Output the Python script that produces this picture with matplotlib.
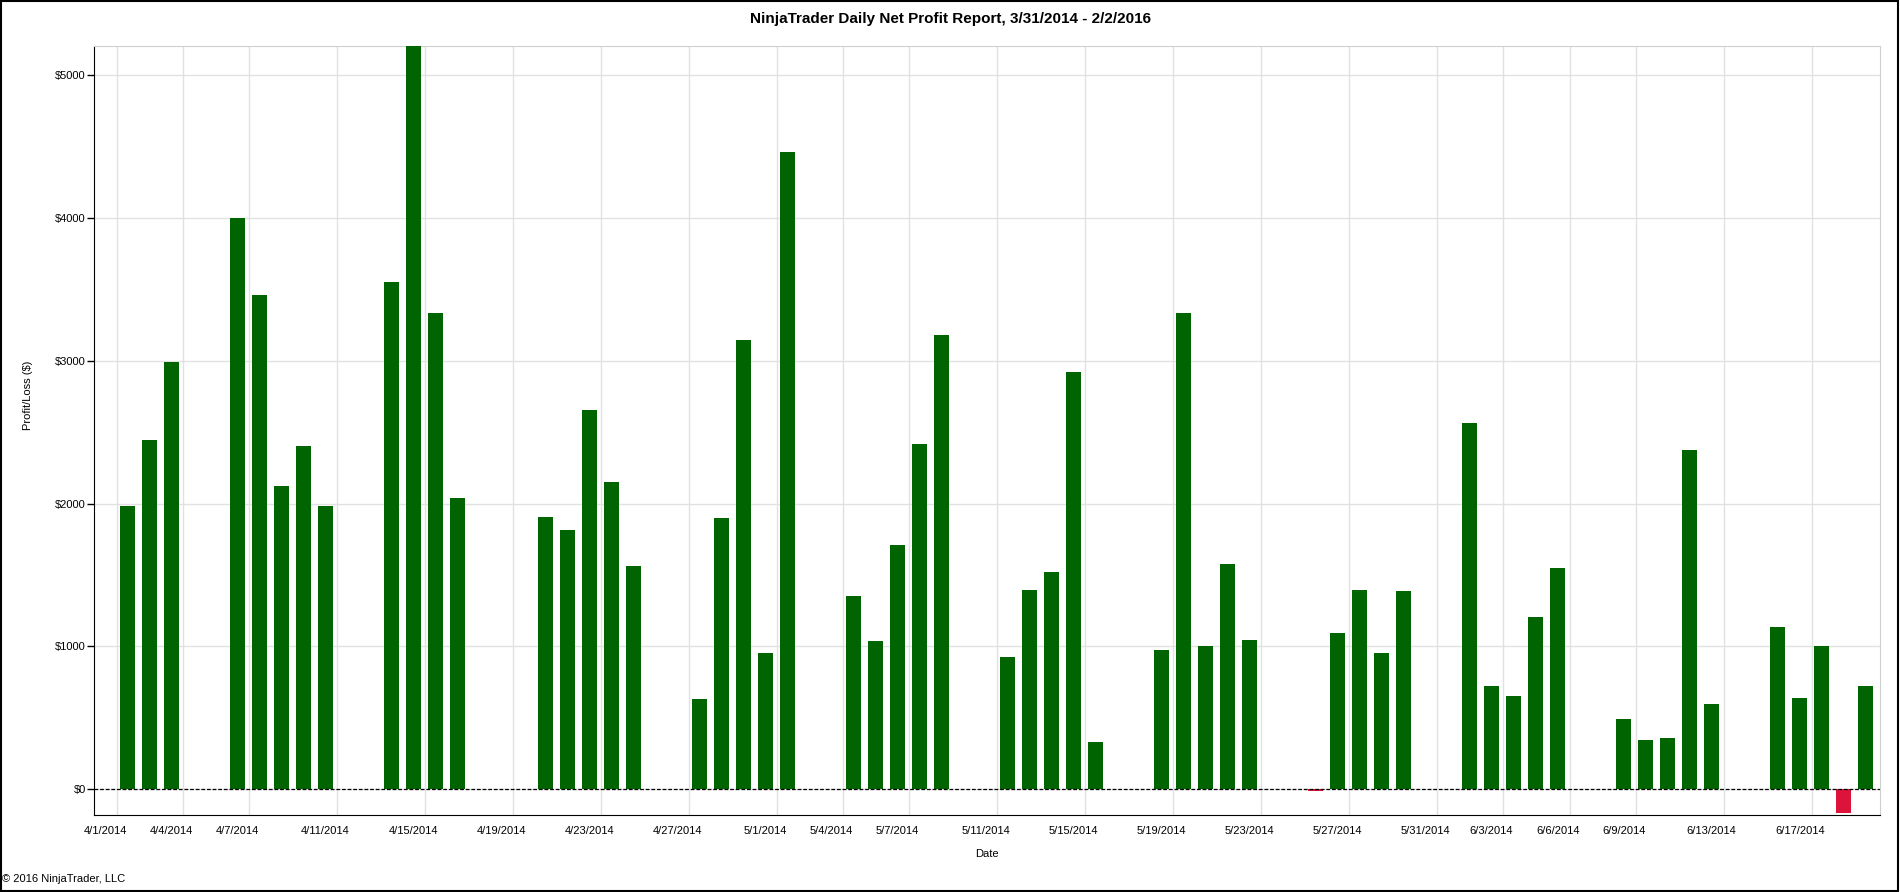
import numpy as np
import matplotlib
matplotlib.use("Agg")
import matplotlib.pyplot as plt
import matplotlib.dates as mdates
from matplotlib.ticker import FuncFormatter, FixedLocator
from matplotlib.patches import Rectangle

plt.rcParams["font.family"] = ["Liberation Sans", "DejaVu Sans"]

# trading days shown in the report
days = [
    "2014-04-02", "2014-04-03", "2014-04-04",
    "2014-04-07", "2014-04-08", "2014-04-09", "2014-04-10", "2014-04-11",
    "2014-04-14", "2014-04-15", "2014-04-16", "2014-04-17",
    "2014-04-21", "2014-04-22", "2014-04-23", "2014-04-24", "2014-04-25",
    "2014-04-28", "2014-04-29", "2014-04-30", "2014-05-01", "2014-05-02",
    "2014-05-05", "2014-05-06", "2014-05-07", "2014-05-08", "2014-05-09",
    "2014-05-12", "2014-05-13", "2014-05-14", "2014-05-15", "2014-05-16",
    "2014-05-19", "2014-05-20", "2014-05-21", "2014-05-22", "2014-05-23",
    "2014-05-26", "2014-05-27", "2014-05-28", "2014-05-29", "2014-05-30",
    "2014-06-02", "2014-06-03", "2014-06-04", "2014-06-05", "2014-06-06",
    "2014-06-09", "2014-06-10", "2014-06-11", "2014-06-12", "2014-06-13",
    "2014-06-16", "2014-06-17", "2014-06-18", "2014-06-19", "2014-06-20",
]
net_profit = [
    1981, 2443, 2991,
    4002, 3465, 2122, 2402, 1981,
    3550, 5204, 3338, 2037,
    1905, 1813, 2655, 2149, 1563,
    633, 1899, 3150, 954, 4466,
    1354, 1039, 1710, 2417, 3179,
    927, 1395, 1522, 2920, 333,
    974, 3338, 1004, 1578, 1045,
    -15, 1095, 1395, 954, 1389,
    2564, 724, 654, 1207, 1548,
    492, 347, 359, 2376, 598,
    1136, 639, 1004, -171, 724,
]
tick_days = [
    "2014-04-01", "2014-04-04", "2014-04-07", "2014-04-11", "2014-04-15",
    "2014-04-19", "2014-04-23", "2014-04-27", "2014-05-01", "2014-05-04",
    "2014-05-07", "2014-05-11", "2014-05-15", "2014-05-19", "2014-05-23",
    "2014-05-27", "2014-05-31", "2014-06-03", "2014-06-06", "2014-06-09",
    "2014-06-13", "2014-06-17",
]
y_ticks = [0, 1000, 2000, 3000, 4000, 5000]

GREEN = "#006400"
RED = "#dc143c"
GRID = "#e1e1e1"

x = mdates.datestr2num(days)
vals = np.array(net_profit)
xt = mdates.datestr2num(tick_days)
tick_labels = [f"{int(d[5:7])}/{int(d[8:10])}/{d[:4]}" for d in tick_days]

fig = plt.figure(figsize=(19, 8.92), dpi=100)
ax = fig.add_axes([0.0496, 0.086, 0.9400, 0.862])

colors = [GREEN if v >= 0 else RED for v in vals]
ax.bar(x, vals, width=0.68, color=colors, zorder=3)
ax.axhline(0, color="black", lw=0.9, ls=(0, (3, 1.5)), zorder=4)

ax.set_xlim(x[0] - 1.5, x[-1] + 0.66)
ax.set_ylim(-184, 5204)

ax.xaxis.set_major_locator(FixedLocator(xt))
ax.set_xticklabels(tick_labels)
ax.xaxis.set_minor_locator(FixedLocator(xt + 0.54))
ax.tick_params(axis="x", which="both", length=0, labelsize=8, pad=8)
ax.grid(True, axis="x", which="minor", color=GRID, lw=1, zorder=0)
ax.grid(False, axis="x", which="major")

ax.set_yticks(y_ticks)
ax.yaxis.set_major_formatter(FuncFormatter(lambda v, p: f"${v:.0f}"))
ax.tick_params(axis="y", length=5, width=1, labelsize=8, pad=1)
ax.grid(True, axis="y", color=GRID, lw=1, zorder=0)

for s in ("top", "right"):
    ax.spines[s].set_color("#cfcfcf")
for s in ("left", "bottom"):
    ax.spines[s].set_color("black")

ax.set_xlabel("Date", fontsize=8, labelpad=9)
ax.set_ylabel("Profit/Loss ($)", fontsize=8)
ax.yaxis.set_label_coords(-0.0345, 0.5466)

fig.text(0.5, 0.979, "NinjaTrader Daily Net Profit Report, 3/31/2014 - 2/2/2016",
         ha="center", va="center", fontsize=11, fontweight="bold")
fig.text(0.001, 0.009, "\u00a9 2016 NinjaTrader, LLC", ha="left", va="bottom", fontsize=8)

fig.patches.append(Rectangle((0.0005, 0.001), 0.9985, 0.998, transform=fig.transFigure,
                             fill=False, edgecolor="black", lw=1.5))

fig.savefig("out.png", dpi=100)
